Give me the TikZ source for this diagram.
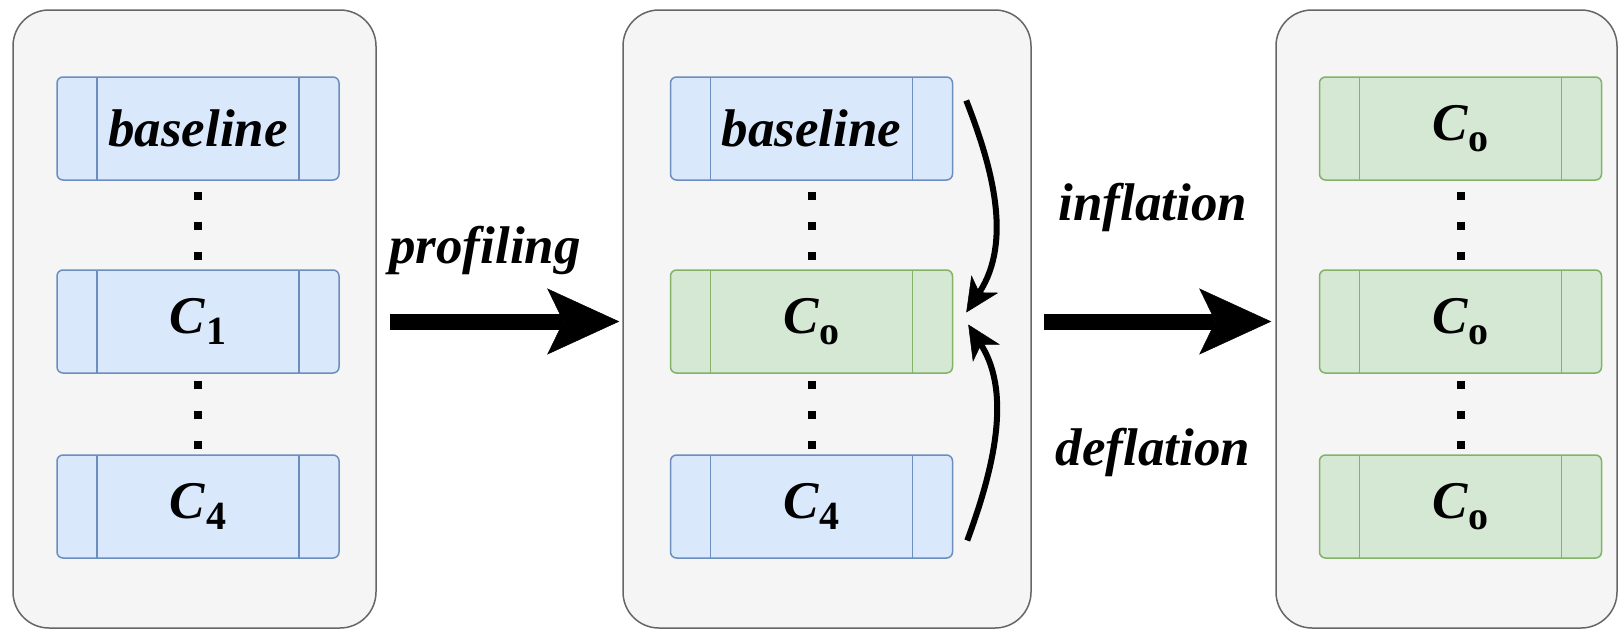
\documentclass[tikz,border=0pt]{standalone}
\usepackage{fontspec}
\setmainfont{Liberation Serif}[
  BoldFont={Liberation Serif Bold},
  ItalicFont={Liberation Serif Italic},
  BoldItalicFont={Liberation Serif Bold Italic}]
\usetikzlibrary{arrows.meta,calc}

\definecolor{panelfill}{HTML}{F5F5F5}
\definecolor{panelline}{HTML}{666666}
\definecolor{bluefill}{HTML}{DAE8FC}
\definecolor{blueline}{HTML}{6C8EBF}
\definecolor{greenfill}{HTML}{D5E8D4}
\definecolor{greenline}{HTML}{82B366}

% configuration name: bold italic C with an upright bold subscript
\newcommand{\cfgname}[1]{\textit{C}\kern1pt\raisebox{-11pt}{\fontsize{40}{40}\selectfont\upshape #1}}

\tikzset{
  panel/.style={draw=panelline, fill=panelfill, line width=1.5pt,
    rounded corners=36pt, minimum height=618pt, inner sep=0pt},
  procbox/.style 2 args={draw=#2, fill=#1, line width=1.5pt, rounded corners=6pt,
    minimum width=282pt, minimum height=103pt, inner sep=0pt,
    font=\fontsize{53}{60}\selectfont\bfseries\itshape,
    path picture={
      \draw[#2, line width=1.5pt]
        ([xshift=40pt]path picture bounding box.north west) --
        ([xshift=40pt]path picture bounding box.south west)
        ([xshift=-40pt]path picture bounding box.north east) --
        ([xshift=-40pt]path picture bounding box.south east);}},
  bluebox/.style={procbox={bluefill}{blueline}},
  greenbox/.style={procbox={greenfill}{greenline}},
  dotrow/.style={draw=black, line width=8pt, dash pattern=on 8pt off 22pt, dash phase=#1},
  lbl/.style={font=\fontsize{53}{60}\selectfont\bfseries\itshape, inner sep=0pt, anchor=base},
  bigarrow/.style={draw=black, line width=16pt,
    -{Stealth[length=72pt, width=66pt, inset=16pt, line width=0.5pt]}},
  curvearrow/.style={draw=black, line width=6pt,
    -{Stealth[length=34pt, width=32pt, inset=10pt, line width=0.5pt]}},
}

\begin{document}
\begin{tikzpicture}[x=1pt, y=-1pt]
\useasboundingbox (0,0) rectangle (1619,632);
\fill[white] (0,0) rectangle (1619,632);

% the three panels
\node[panel, minimum width=363pt] (L) at (194.5,319) {};
\node[panel, minimum width=408pt] (M) at (827,319) {};
\node[panel, minimum width=341pt] (R) at (1446.5,319) {};

% left panel: original configurations
\node[bluebox] (a1) at (198,128.5) {baseline};
\node[bluebox] (a2) at (198,321.5) {\cfgname{1}};
\node[bluebox] (a3) at (198,506.5) {\cfgname{4}};

% middle panel: after profiling
\node[bluebox]  (m1) at (811.5,128.5) {baseline};
\node[greenbox] (m2) at (811.5,321.5) {\cfgname{o}};
\node[bluebox]  (m3) at (811.5,506.5) {\cfgname{4}};

% right panel: unified configuration
\node[greenbox] (r1) at (1460.5,128.5) {\cfgname{o}};
\node[greenbox] (r2) at (1460.5,321.5) {\cfgname{o}};
\node[greenbox] (r3) at (1460.5,506.5) {\cfgname{o}};

% elided entries between the boxes
\foreach \c in {a,m,r}{
  \draw[dotrow=19pt] (\c1.south) -- (\c2.north);
  \draw[dotrow=23pt] (\c2.south) -- (\c3.north);
}

% stage transitions
\draw[bigarrow] ($(L.east |- a2.center)+(13,0)$) -- ($(M.west |- a2.center)+(-3,0)$);
\draw[bigarrow] ($(M.east |- m2.center)+(12,0)$) -- ($(R.west |- m2.center)+(-4,0)$);

\node[lbl] (tprof) at (485,263) {profiling};
\node[lbl] (tinf)  at (1153,220) {inflation};
\node[lbl] (tdef)  at (1153,465) {deflation};

% inflation and deflation towards the chosen configuration
\draw[curvearrow] ($(m1.east)+(13,-28)$)
  .. controls ($(m1.east)+(38,36)$) and ($(m2.east)+(60,-81)$) .. ($(m2.east)+(13,-9)$);
\draw[curvearrow] ($(m3.east)+(14,34)$)
  .. controls ($(m3.east)+(38,-31)$) and ($(m2.east)+(60,74)$) .. ($(m2.east)+(15,3)$);
\end{tikzpicture}
\end{document}
